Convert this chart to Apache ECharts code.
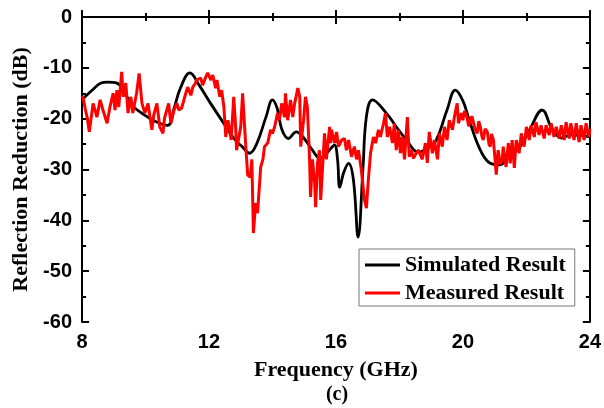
<!DOCTYPE html>
<html>
<head>
<meta charset="utf-8">
<script src="https://cdn.jsdelivr.net/npm/echarts@6/dist/echarts.min.js"></script>
<style>html,body{margin:0;padding:0;background:#fff}#c{width:604px;height:408px}</style>
</head>
<body>
<div id="c"></div>
<script>
var xTicks = [8, 12, 16, 20, 24];
var yTicks = [0, -10, -20, -30, -40, -50, -60];

var simFreq = [8.0, 8.3, 8.6, 8.8, 9.1, 9.35, 9.6, 9.9, 10.3, 10.7, 10.9, 11.1, 11.4, 11.7, 12.0, 12.4, 12.8, 13.06, 13.28, 13.5, 13.8, 14.0, 14.15, 14.3, 14.5, 14.75, 14.95, 15.26, 15.5, 15.75, 15.95, 16.05, 16.12, 16.25, 16.4, 16.55, 16.7, 16.85, 16.96, 17.15, 17.6, 17.9, 18.2, 18.6, 18.9, 19.16, 19.5, 19.76, 20.0, 20.2, 20.5, 20.8, 21.15, 21.46, 21.8, 22.1, 22.5, 22.8, 23.1, 23.4, 23.7, 24.0];
var simDb = [-16.3, -14.5, -13, -12.8, -13, -15, -17.5, -19, -20.5, -21.3, -18, -14, -11, -13.5, -16.5, -20.3, -24, -25.6, -26.8, -25, -19.6, -16.3, -18, -22.2, -23.9, -22.6, -23.5, -26.2, -27.8, -26.5, -25.2, -28, -33.5, -30.5, -28.8, -32, -43.3, -30, -19.6, -16.3, -19, -21.6, -24, -26.6, -25.8, -24.2, -18.3, -14.4, -16.5, -20.3, -25.5, -28.5, -29.1, -27.5, -25.5, -22.2, -18.3, -21.9, -23.8, -23.2, -23.3, -23.6];

var measFreq = [8.0, 8.04, 8.1, 8.17, 8.23, 8.35, 8.47, 8.57, 8.66, 8.79, 8.88, 8.98, 9.04, 9.1, 9.16, 9.25, 9.3, 9.38, 9.45, 9.54, 9.6, 9.72, 9.8, 9.89, 9.98, 10.08, 10.2, 10.26, 10.36, 10.45, 10.55, 10.6,
  10.67, 10.73, 10.8, 10.9, 10.99, 11.05, 11.14, 11.27, 11.33, 11.43, 11.49, 11.58, 11.6, 11.74, 11.8, 11.9, 11.96, 12.06, 12.12, 12.21, 12.25, 12.34, 12.4, 12.47, 12.53, 12.6, 12.7, 12.78, 12.84, 12.87, 13.0, 13.06, 13.16, 13.22,
  13.3, 13.35, 13.4, 13.47, 13.53, 13.63, 13.7, 13.75, 13.85, 13.94, 14.0, 14.07, 14.16, 14.22, 14.29, 14.38, 14.41, 14.48, 14.57, 14.64, 14.7, 14.8, 14.86, 14.89, 14.98, 15.04, 15.1, 15.17, 15.2, 15.26, 15.33, 15.36, 15.42, 15.48, 15.52, 15.58, 15.64, 15.7, 15.8, 15.83,
  15.86, 15.96, 16.02, 16.08, 16.18, 16.27, 16.33, 16.4, 16.49, 16.58, 16.65, 16.71, 16.8, 16.9, 16.96, 17.02, 17.09, 17.18, 17.25, 17.34, 17.4, 17.5, 17.56, 17.62, 17.69, 17.78, 17.84, 17.9, 17.97, 18.03, 18.09, 18.16, 18.25, 18.31, 18.38, 18.44, 18.53,
  18.6, 18.72, 18.82, 18.88, 18.94, 19.04, 19.1, 19.2, 19.26, 19.35, 19.42, 19.5, 19.57, 19.67, 19.73, 19.82, 19.86, 19.95, 20.0, 20.05, 20.13, 20.18, 20.23, 20.28, 20.33, 20.38, 20.45, 20.5, 20.55, 20.6, 20.64, 20.7, 20.77, 20.82, 20.86, 20.9, 20.96, 21.0, 21.05, 21.11, 21.18, 21.24,
  21.27, 21.36, 21.43, 21.49, 21.55, 21.62, 21.68, 21.77, 21.84, 21.93, 22.0, 22.09, 22.15, 22.25, 22.3, 22.4, 22.46, 22.56, 22.62, 22.72, 22.78, 22.87, 22.94, 23.03, 23.1, 23.19, 23.25, 23.35, 23.4, 23.5, 23.57, 23.66, 23.72, 23.82, 23.88, 23.97, 24.0];
var measDb = [-15.5, -16, -18, -20, -22.6, -17, -19.7, -16.3, -18.3, -20.9, -17.7, -15, -18.3, -14.4, -17.7, -10.8, -15.7, -13, -18.9, -15.7, -18.9, -15, -11.1, -17, -18.9, -17, -22.2, -19.3, -17, -21.6, -22.9, -19.9,
  -18.3, -17, -20.9, -18.3, -17, -18.3, -17.9, -15, -13.8, -15.4, -13.8, -13, -12.4, -12, -13.4, -11.8, -11, -12.4, -11.4, -14, -12.4, -15.7, -14.4, -17.7, -23.6, -20.3, -24.2, -15.7, -21.6, -26.2, -21.6, -15, -25.5, -31.1,
  -31.5, -28, -42.5, -36.6, -38.6, -29.5, -28, -25.5, -24.8, -22.2, -22.9, -21.6, -18.9, -20.3, -17, -19.7, -15, -20.3, -16.3, -19.7, -17, -14, -15.7, -25.5, -20.3, -15.7, -17.7, -28, -35.4, -28, -32.7, -37.4, -28.7, -26.2, -36, -29.5, -22.9, -28, -21.6, -24.8,
  -22.2, -24.8, -22.6, -25.5, -24.2, -23.9, -26.2, -24.2, -27.5, -25.5, -28, -26.2, -30.1, -36, -37.6, -32.1, -26.8, -23.6, -24.8, -22.2, -23.6, -20.9, -18.9, -23.6, -21.6, -24.8, -20.9, -26.2, -22.2, -26.8, -23.6, -28, -19.7, -27.5, -26.2, -27.8, -26.8,
  -26.2, -28, -24.8, -28.7, -22.6, -26.8, -24.2, -28, -22.9, -25.5, -21.6, -24.2, -20.3, -22.2, -19.7, -17, -20.9, -18.9, -20.3, -18.5, -19.7, -21.5, -21.3, -19.5, -20.7, -22, -22.9, -20.5, -21.6, -23.5, -24.2, -22, -22.6, -25, -25.5, -23, -24.2, -27, -31, -26.2, -29, -28,
  -25.5, -29.5, -24.8, -28.8, -24.2, -29.7, -24.2, -26.8, -22.9, -25.5, -21.6, -24.2, -21.3, -23.6, -20.7, -23.2, -21.3, -23.9, -21.3, -23.2, -20.9, -23.6, -21.6, -23.9, -21.3, -24.2, -20.7, -23.9, -20.9, -24.2, -20.9, -24.6, -21.3, -24.2, -20.9, -23.6, -22];

function pairs(xs, ys) { return xs.map(function (x, i) { return [x, ys[i]]; }); }

var chart = echarts.init(document.getElementById('c'), null, { renderer: 'canvas' });
var axisCommon = {
  axisLine: { show: true, lineStyle: { color: '#000', width: 2 } },
  axisTick: { show: true, inside: true, length: 7, lineStyle: { color: '#000', width: 2 } },
  minorTick: { show: true, splitNumber: 2, length: 4, lineStyle: { color: '#000', width: 2 } },
  splitLine: { show: false },
  minorSplitLine: { show: false }
};
var labelFont = { color: '#000', fontFamily: 'Liberation Sans', fontWeight: 'bold', fontSize: 20 };
var titleFont = { color: '#000', fontFamily: 'Liberation Serif', fontWeight: 'bold', fontSize: 22 };
var lineIcon = 'path://M0,0 L36,0 L36,3 L0,3 Z';

chart.setOption({
  animation: false,
  backgroundColor: '#fff',
  grid: { left: 82, right: 13, top: 17, bottom: 86, containLabel: false },
  xAxis: [
    Object.assign({
      type: 'value', min: 8, max: 24, interval: 4, position: 'bottom',
      axisLabel: Object.assign({ margin: 10, formatter: function (v) { return xTicks.indexOf(v) >= 0 ? String(v) : ''; } }, labelFont),
      name: 'Frequency (GHz)', nameLocation: 'middle', nameGap: 37, nameTextStyle: titleFont
    }, axisCommon),
    Object.assign({
      type: 'value', min: 8, max: 24, interval: 4, position: 'top', axisLabel: { show: false }
    }, axisCommon)
  ],
  yAxis: [
    Object.assign({
      type: 'value', min: -60, max: 0, interval: 10, position: 'left',
      axisLabel: Object.assign({ margin: 10, formatter: function (v) { return yTicks.indexOf(v) >= 0 ? String(v) : ''; } }, labelFont),
      name: 'Reflection Reduction (dB)', nameLocation: 'middle', nameGap: 49, nameTextStyle: titleFont
    }, axisCommon),
    Object.assign({
      type: 'value', min: -60, max: 0, interval: 10, position: 'right', axisLabel: { show: false }
    }, axisCommon)
  ],
  legend: {
    show: true, orient: 'vertical', left: 359, top: 249,
    padding: [5, 9, 2, 6], itemGap: 6, itemWidth: 35, itemHeight: 3, itemTextGap: 5,
    borderColor: '#777', borderWidth: 1, backgroundColor: '#fff',
    textStyle: titleFont,
    data: [
      { name: 'Simulated Result', icon: lineIcon, itemStyle: { color: '#000' } },
      { name: 'Measured Result', icon: lineIcon, itemStyle: { color: '#ff0000' } }
    ]
  },
  series: [
    {
      name: 'Simulated Result', type: 'line', xAxisIndex: 0, yAxisIndex: 0,
      data: pairs(simFreq, simDb), smooth: 0.4, symbol: 'none', showSymbol: false,
      lineStyle: { color: '#000', width: 2.8 }, itemStyle: { color: '#000' }, z: 2
    },
    {
      name: 'Measured Result', type: 'line', xAxisIndex: 0, yAxisIndex: 0,
      data: pairs(measFreq, measDb), smooth: false, symbol: 'none', showSymbol: false,
      lineStyle: { color: '#ff0000', width: 3 }, itemStyle: { color: '#ff0000' }, z: 3
    }
  ],
  graphic: [
    { type: 'text', x: 337, y: 395, style: { text: '(c)', fill: '#000', font: 'bold 20px "Liberation Serif"', align: 'center', verticalAlign: 'middle' } }
  ]
});
</script>
</body>
</html>
